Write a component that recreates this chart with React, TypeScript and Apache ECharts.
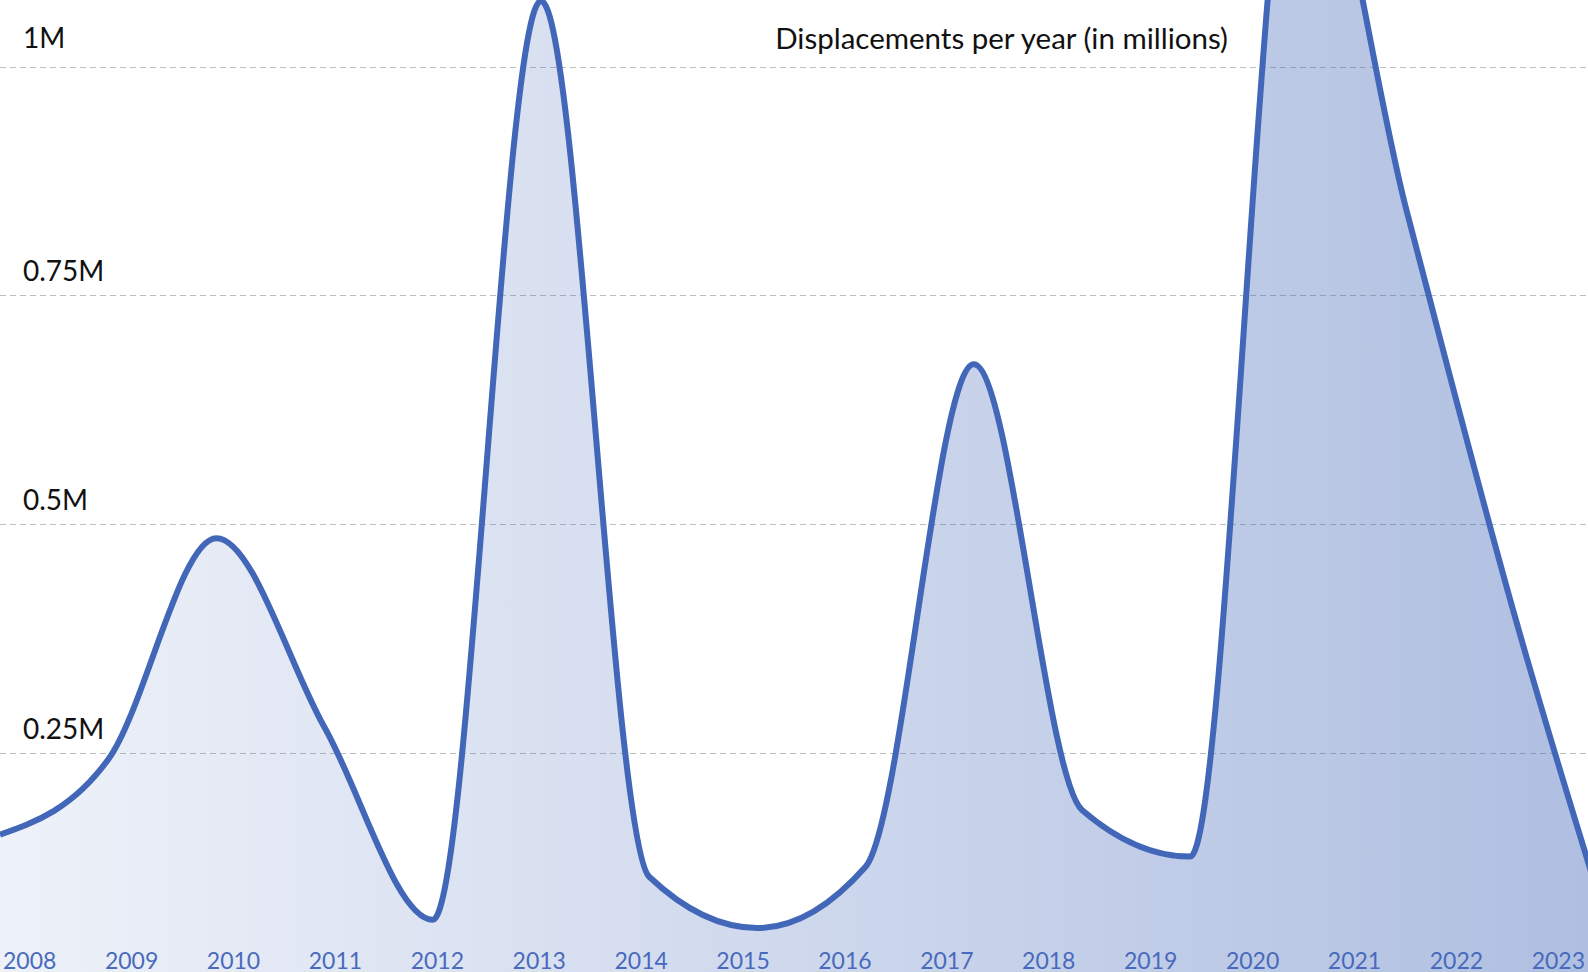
import React, { useEffect, useRef } from 'react';
import * as echarts from 'echarts';

// Yearly displacements, in millions
const years = [2008, 2009, 2010, 2011, 2012, 2013, 2014, 2015, 2016, 2017, 2018, 2019, 2020, 2021, 2022, 2023];
const displacements = [0.161, 0.243, 0.485, 0.278, 0.068, 1.072, 0.115, 0.059, 0.126, 0.675, 0.188, 0.137, 1.302, 0.843, 0.4, 0.008];
const yearLabels = years.map(String);
const yTickValues = [0.25, 0.5, 0.75, 1];
const yTickLabels = ['0.25M', '0.5M', '0.75M', '1M'];
const chartTitle = 'Displacements per year (in millions)';

const FONT = 'Lato, "Noto Sans", sans-serif';
const LINE_COLOR = '#4267b8';

// The chart canvas reaches above and below the visible page so that the
// zero line and the 1.25M line fall just outside the view.
const OVER_TOP = 162;
const OVER_BOTTOM = 10;

// Monotone cubic interpolation in x (Fritsch–Carlson tangents) through
// screen points, returned as SVG path data.
function monotonePath(pts: number[][]): string {
  const n = pts.length;
  const sign = (v: number) => (v < 0 ? -1 : 1);
  const tangents: number[] = new Array(n).fill(0);
  for (let i = 1; i < n - 1; i++) {
    const h0 = pts[i][0] - pts[i - 1][0];
    const h1 = pts[i + 1][0] - pts[i][0];
    const s0 = (pts[i][1] - pts[i - 1][1]) / h0;
    const s1 = (pts[i + 1][1] - pts[i][1]) / h1;
    const p = (s0 * h1 + s1 * h0) / (h0 + h1);
    tangents[i] = (sign(s0) + sign(s1)) * Math.min(Math.abs(s0), Math.abs(s1), 0.5 * Math.abs(p)) || 0;
  }
  const endSlope = (a: number[], b: number[], t: number) => (3 * (b[1] - a[1]) / (b[0] - a[0]) - t) / 2;
  tangents[0] = endSlope(pts[0], pts[1], tangents[1]);
  tangents[n - 1] = endSlope(pts[n - 2], pts[n - 1], tangents[n - 2]);

  let d = `M${pts[0][0]},${pts[0][1]}`;
  for (let i = 0; i < n - 1; i++) {
    const [x0, y0] = pts[i];
    const [x1, y1] = pts[i + 1];
    const dx = (x1 - x0) / 3;
    d += ` C${x0 + dx},${y0 + dx * tangents[i]} ${x1 - dx},${y1 - dx * tangents[i + 1]} ${x1},${y1}`;
  }
  return d;
}

export default function App() {
  const ref = useRef<HTMLDivElement>(null);

  useEffect(() => {
    if (!ref.current) return;
    const chart = echarts.init(ref.current, null, { renderer: 'svg' });

    const renderItem = (params: any, api: any) => {
      if (params.dataIndex !== 0) return null;
      const pts = years.map((yr, i) => api.coord([yr, displacements[i]]));
      const base = api.coord([years[0], 0])[1];
      const line = monotonePath(pts);
      const last = pts[pts.length - 1];
      const area = `${line} L${last[0]},${base} L${pts[0][0]},${base} Z`;
      const w = api.getWidth();
      return {
        type: 'group',
        children: [
          {
            type: 'path',
            shape: { pathData: area },
            style: {
              fill: new echarts.graphic.LinearGradient(0, 0, w, 0, [
                { offset: 0, color: 'rgba(66,103,184,0.09)' },
                { offset: 1, color: 'rgba(66,103,184,0.42)' },
              ], true),
              stroke: null,
            },
          },
          {
            type: 'path',
            shape: { pathData: line },
            style: { fill: null, stroke: LINE_COLOR, lineWidth: 6, lineJoin: 'round', lineCap: 'butt' },
          },
        ],
      };
    };

    chart.setOption({
      animation: false,
      backgroundColor: '#ffffff',
      grid: [
        { left: 0, right: 0, top: 0, bottom: 0 },
        { left: 28, right: 25, top: OVER_TOP, bottom: 27 + OVER_BOTTOM },
      ],
      xAxis: [
        { type: 'value', gridIndex: 0, min: 2008, max: 2022.677, show: false },
        {
          type: 'category',
          gridIndex: 1,
          data: yearLabels,
          boundaryGap: false,
          axisLine: { show: false },
          axisTick: { show: false },
          axisLabel: {
            interval: 0,
            color: '#4a6bbd',
            fontSize: 23,
            lineHeight: 18,
            fontFamily: FONT,
            margin: 6,
          },
        },
      ],
      yAxis: [
        {
          type: 'value',
          gridIndex: 0,
          min: 0,
          max: 1.25,
          interval: 0.25,
          axisLine: { show: false },
          axisTick: { show: false },
          splitLine: { lineStyle: { color: '#bdbdbd', width: 1, type: [6, 4] } },
          axisLabel: {
            inside: true,
            margin: 23,
            verticalAlign: 'bottom',
            color: '#111111',
            fontSize: 28,
            fontFamily: FONT,
            lineHeight: 28,
            formatter: (v: number) => {
              const i = yTickValues.indexOf(v);
              if (i < 0) return '';
              return v === 1 ? `{top|${yTickLabels[i]}}` : `{tick|${yTickLabels[i]}}`;
            },
            rich: {
              tick: { fontSize: 28, fontFamily: FONT, color: '#111111', lineHeight: 28, padding: [0, 0, 23, 0] },
              top: { fontSize: 28, fontFamily: FONT, color: '#111111', lineHeight: 28, padding: [0, 0, 31, 0] },
            },
          },
        },
        { type: 'value', gridIndex: 1, show: false },
      ],
      graphic: [
        {
          type: 'text',
          x: 1228,
          y: 52 + OVER_TOP,
          style: {
            text: chartTitle,
            font: `29.5px ${FONT}`,
            fill: '#111111',
            align: 'right',
            verticalAlign: 'bottom',
          },
        },
      ],
      series: [
        {
          type: 'custom',
          xAxisIndex: 0,
          yAxisIndex: 0,
          data: years.map((yr, i) => [yr, displacements[i]]),
          renderItem,
          z: 3,
        },
      ],
    });

    return () => chart.dispose();
  }, []);

  return (
    <div
      ref={ref}
      style={{
        position: 'fixed',
        left: 0,
        top: -OVER_TOP,
        width: 1588,
        height: 972 + OVER_TOP + OVER_BOTTOM,
      }}
    />
  );
}
